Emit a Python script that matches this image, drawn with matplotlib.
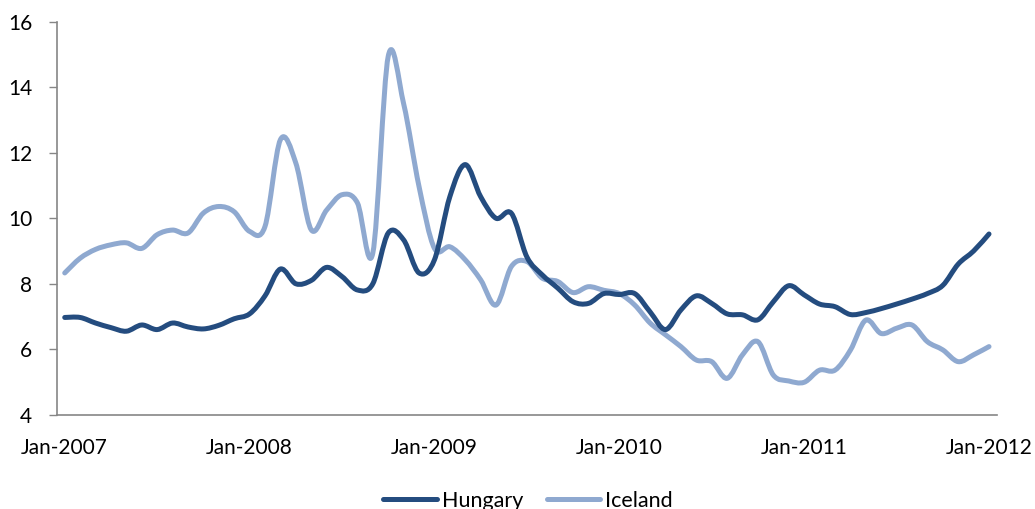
import matplotlib
matplotlib.use("Agg")
import matplotlib.pyplot as plt
from matplotlib.path import Path
from matplotlib.patches import PathPatch
from matplotlib.lines import Line2D

# monthly readings, Jan-2007 .. Jan-2012
hungary = [6.97, 6.97, 6.80, 6.66, 6.55, 6.74, 6.60, 6.80, 6.68, 6.62,
           6.73, 6.93, 7.08, 7.63, 8.45, 8.00, 8.10, 8.50, 8.22, 7.81,
           8.00, 9.55, 9.34, 8.33, 8.73, 10.66, 11.64, 10.66, 10.00, 10.15,
           8.82, 8.27, 7.87, 7.45, 7.40, 7.70, 7.67, 7.70, 7.14, 6.60,
           7.20, 7.63, 7.40, 7.08, 7.05, 6.90, 7.45, 7.94, 7.66, 7.38,
           7.30, 7.06, 7.12, 7.24, 7.38, 7.53, 7.70, 7.95, 8.60, 9.00,
           9.52]
iceland = [8.33, 8.78, 9.05, 9.19, 9.25, 9.08, 9.50, 9.64, 9.55, 10.16,
           10.36, 10.20, 9.60, 9.75, 12.40, 11.69, 9.65, 10.25, 10.72, 10.47,
           8.94, 14.95, 13.50, 10.97, 9.08, 9.13, 8.73, 8.12, 7.35, 8.53,
           8.68, 8.17, 8.07, 7.73, 7.91, 7.80, 7.70, 7.35, 6.80, 6.44,
           6.08, 5.67, 5.62, 5.11, 5.83, 6.23, 5.21, 5.03, 4.99, 5.36,
           5.36, 5.97, 6.89, 6.48, 6.64, 6.74, 6.23, 5.98, 5.62, 5.83,
           6.08]
xlabels = ["Jan-2007", "Jan-2008", "Jan-2009", "Jan-2010", "Jan-2011", "Jan-2012"]
yticks = [4, 6, 8, 10, 12, 14, 16]

dark = "#244C7F"
light = "#8FA9D0"
FONT = "Lato"


def smooth_path(ys):
    # spreadsheet-style smoothed line: cubic bezier through every point
    xs = list(range(len(ys)))
    pts = list(zip(xs, ys))
    n = len(pts)
    verts = [pts[0]]
    codes = [Path.MOVETO]
    for i in range(n - 1):
        p0 = pts[i - 1] if i > 0 else pts[i]
        p1 = pts[i]
        p2 = pts[i + 1]
        p3 = pts[i + 2] if i + 2 < n else pts[i + 1]
        c1 = (p1[0] + (p2[0] - p0[0]) / 6, p1[1] + (p2[1] - p0[1]) / 6)
        c2 = (p2[0] - (p3[0] - p1[0]) / 6, p2[1] - (p3[1] - p1[1]) / 6)
        verts += [c1, c2, p2]
        codes += [Path.CURVE4] * 3
    return Path(verts, codes)


fig = plt.figure(figsize=(10.35, 5.09), dpi=100)
ax = fig.add_axes([0.0551, 0.1853, 0.9079, 0.7717])

for ys, col in [(iceland, light), (hungary, dark)]:
    ax.add_patch(PathPatch(smooth_path(ys), facecolor="none", edgecolor=col,
                           lw=3.6, capstyle="round", joinstyle="round"))

ax.set_xlim(-0.5, 60.5)
ax.set_ylim(4, 16)
ax.set_xticks(range(0, 61, 12))
ax.set_xticklabels(xlabels)
ax.set_yticks(yticks)
ax.tick_params(axis="x", length=0, pad=17)
ax.tick_params(axis="y", length=6, width=1, color="#868686", pad=12)
for lab in ax.get_xticklabels() + ax.get_yticklabels():
    lab.set_fontfamily(FONT)
    lab.set_fontsize(15)
    lab.set_color("#000000")

for s in ["top", "right"]:
    ax.spines[s].set_visible(False)
for s in ["left", "bottom"]:
    ax.spines[s].set_color("#868686")
    ax.spines[s].set_linewidth(1.2)

handles = [Line2D([], [], color=dark, lw=3.6, solid_capstyle="round"),
           Line2D([], [], color=light, lw=3.6, solid_capstyle="round")]
fig.legend(handles, ["Hungary", "Iceland"], loc="center", bbox_to_anchor=(0.51, 0.016),
           ncol=2, frameon=False, prop={"family": FONT, "size": 15.5},
           handlelength=2.5, handletextpad=0.2, columnspacing=1.1)

fig.savefig("out.png", dpi=100)
